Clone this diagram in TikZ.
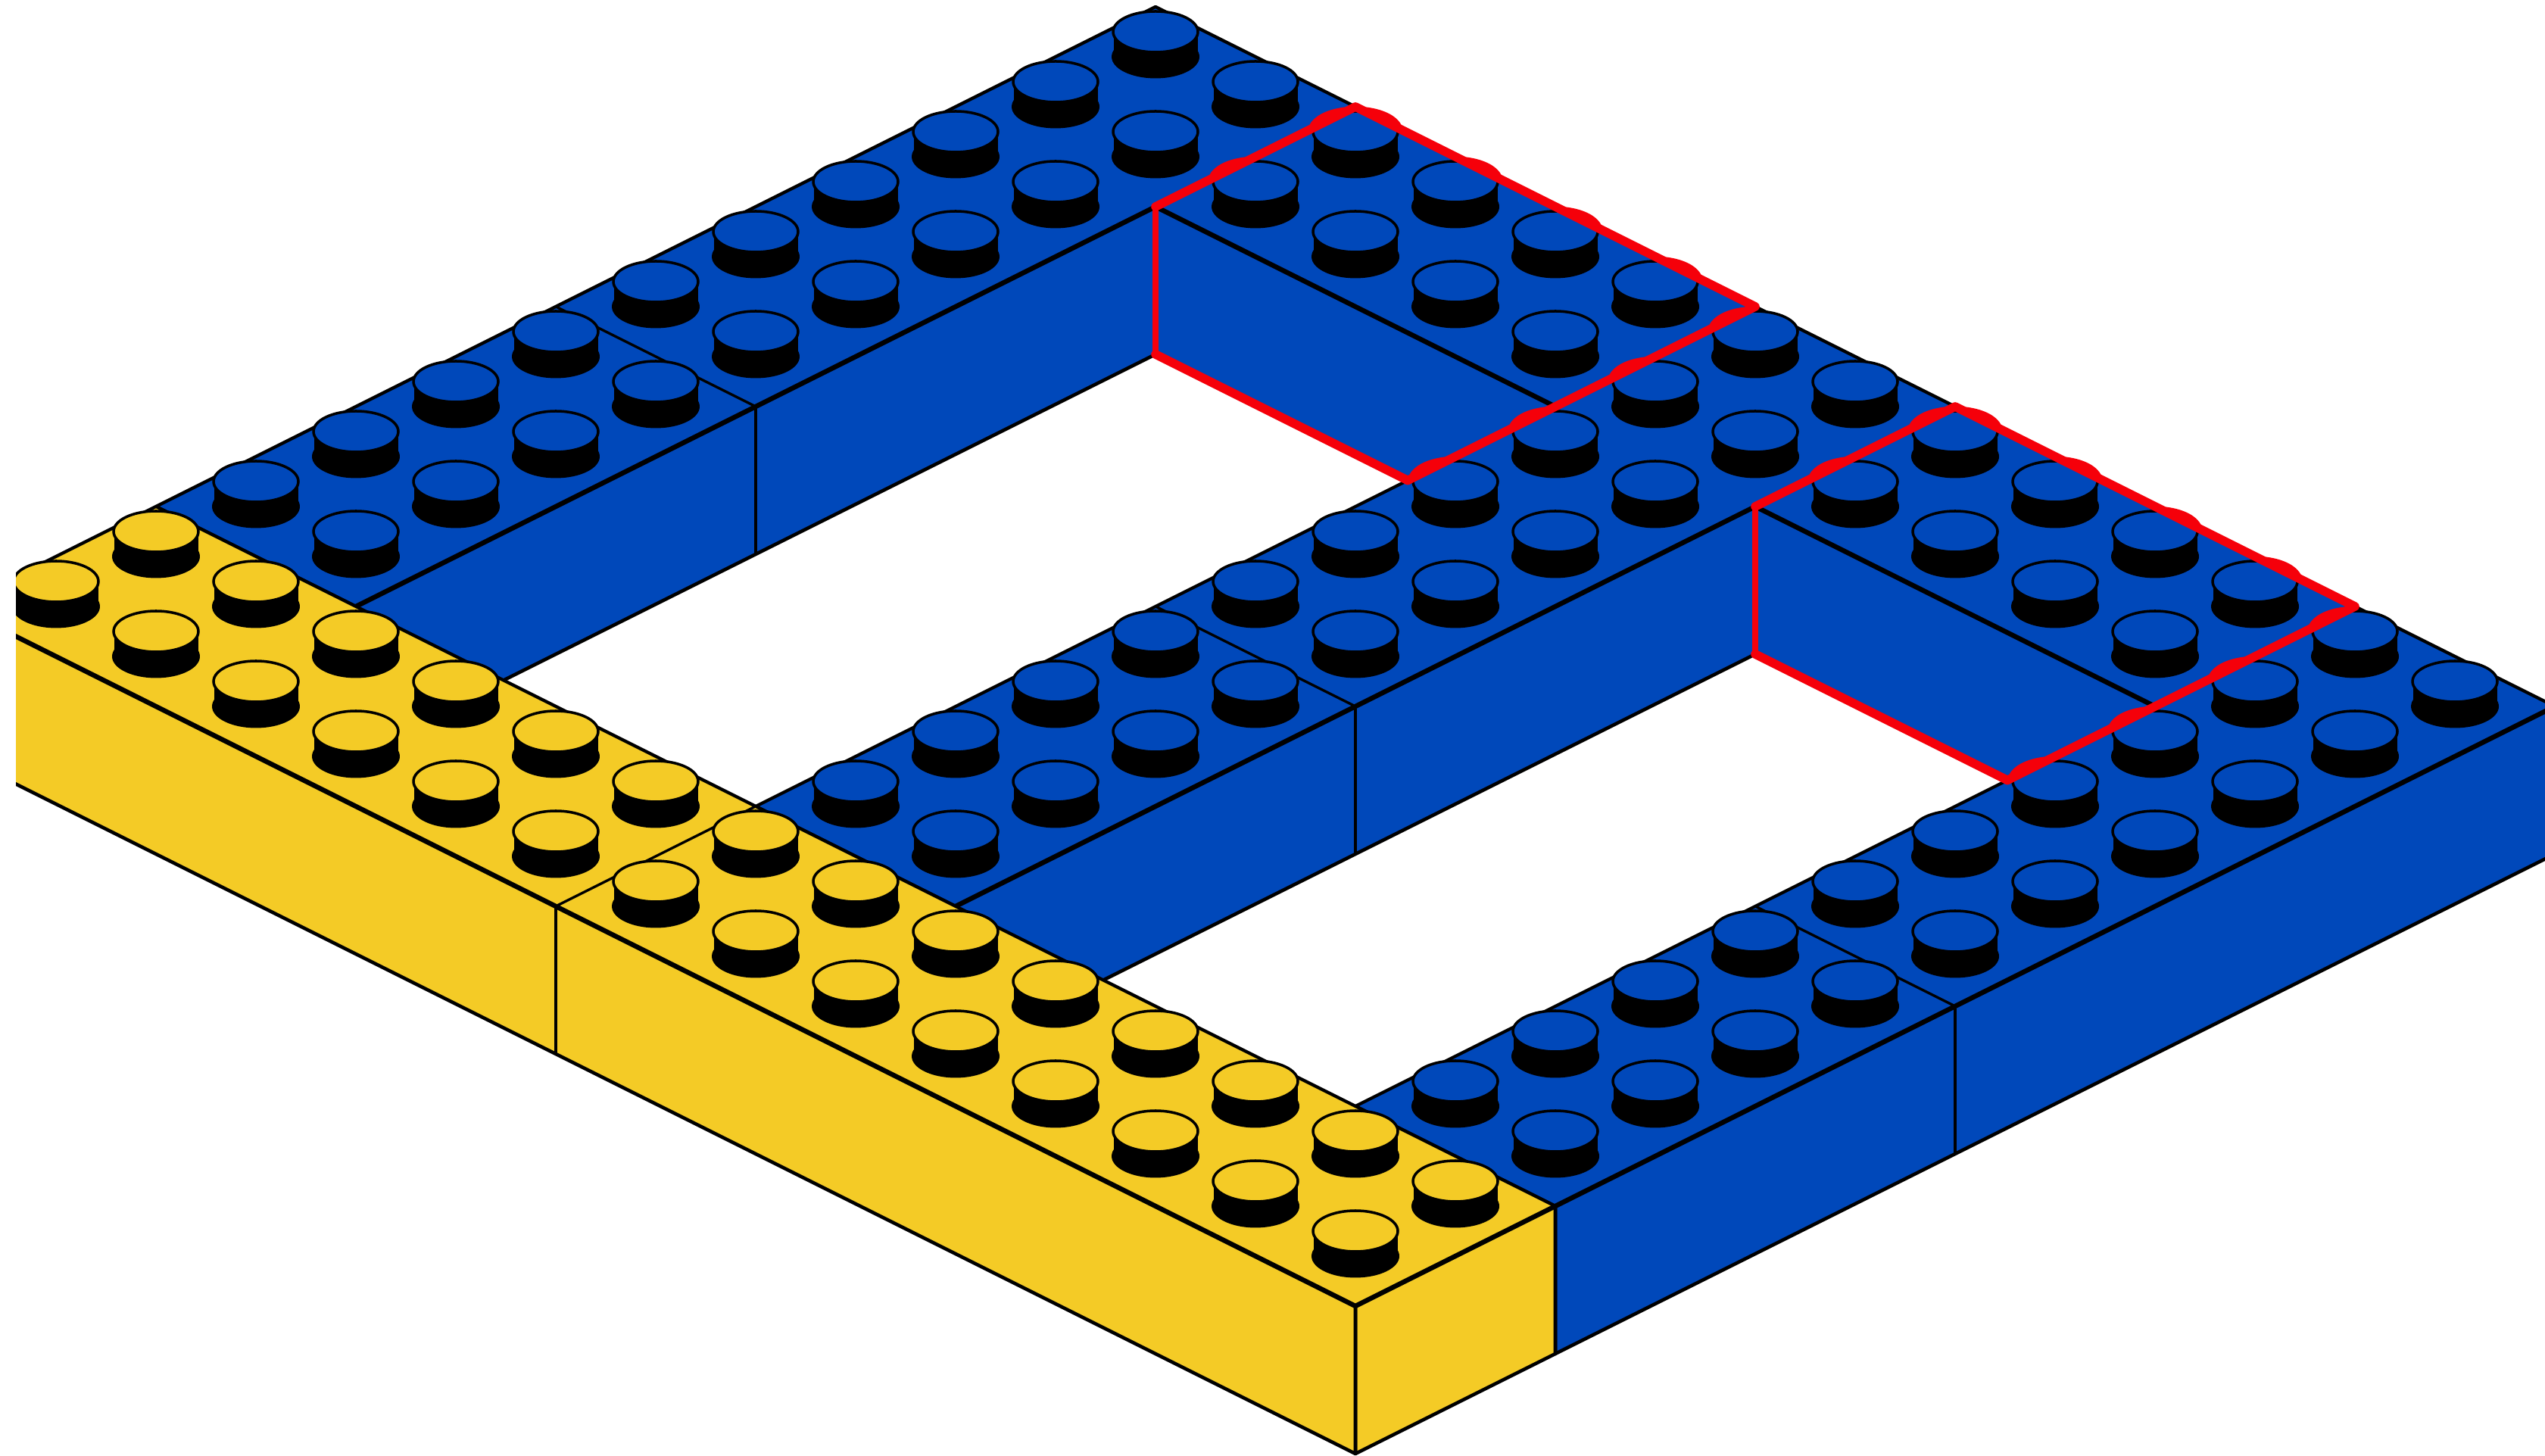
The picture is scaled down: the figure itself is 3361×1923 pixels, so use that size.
\documentclass[tikz,border=0pt]{standalone}
\definecolor{lblue}{RGB}{0,72,186}
\definecolor{lyellow}{RGB}{244,203,38}
\definecolor{lred}{RGB}{245,0,10}
\newcommand\pp[2]{({1790+132*((#2)-(#1))},{198+66*((#1)+(#2))})}
\newcommand\qq[2]{({1790+132*((#2)-(#1))},{3+66*((#1)+(#2))})}
\newcommand\stud[3]{%
  \fill[black] \pp{#1}{#2} ellipse [x radius=1.16cm,y radius=.57cm];
  \fill[black] \pp{#1}{#2} ++(-55.5,0) rectangle ++(111,33);
  \filldraw[fill=#3,draw=black,line width=2pt] \pp{#1}{#2} ++(0,33) ellipse [x radius=1.12cm,y radius=.54cm];
}
\newcommand\studs[3]{% u-list, v-list, colour
  \foreach \uu in {#1} \foreach \vv in {#2} {\stud{\uu}{\vv}{#3}}
}
\newcommand\topface[5]{%
  \filldraw[fill=#5,edgethin] \pp{#1}{#3} -- \pp{#2}{#3} -- \pp{#2}{#4} -- \pp{#1}{#4} -- cycle;
}
\newcommand\uface[4]{%
  \filldraw[fill=#4,edgemid] \pp{#1}{#2} -- \pp{#1}{#3} -- \qq{#1}{#3} -- \qq{#1}{#2} -- cycle;
  \draw[edgethick] \pp{#1}{#2} -- \pp{#1}{#3};
}
\newcommand\vface[4]{%
  \filldraw[fill=#4,edgemid] \pp{#2}{#1} -- \pp{#3}{#1} -- \qq{#3}{#1} -- \qq{#2}{#1} -- cycle;
  \draw[edgethick] \pp{#2}{#1} -- \pp{#3}{#1};
}
\newcommand\bumpL[2]{\draw[redline] \pp{#1}{#2} ++(0,33) ++(105:1.14cm and .55cm) arc [start angle=105,end angle=169,x radius=1.14cm,y radius=.55cm];}
\newcommand\bumpR[2]{\draw[redline] \pp{#1}{#2} ++(0,33) ++(11:1.14cm and .55cm) arc [start angle=11,end angle=75,x radius=1.14cm,y radius=.55cm];}
\newcommand\redbrick[1]{%
  \pgfmathsetmacro\ua{#1}\pgfmathsetmacro\ub{#1-4}%
  \pgfmathsetmacro\vc{10-195/132}%
  \draw[redline] \pp{\ub}{\vc} -- \pp{\ub}{12} -- \pp{\ua}{12} -- \pp{\ua}{10};
  \draw[redline,line width=4.6pt] \pp{\ua}{10} -- \qq{\ua}{10};
  \draw[redline] \qq{\ua}{10} -- \pp{\ub}{\vc} ;
  \foreach \k in {0.5,1.5,2.5,3.5} {\bumpR{\ua-\k}{11.5}}
  \bumpL{\ua-0.5}{10.5}\bumpL{\ua-0.5}{11.5}
  \foreach \w in {8.5,9.5,10.5,11.5} {\bumpL{\ub-0.5}{\w}}
}
\tikzset{
  edgethin/.style={draw=black,line width=2.4pt,line join=round},
  edgemid/.style={draw=black,line width=2.6pt,line join=round},
  edgethick/.style={draw=black,line width=3.6pt,line cap=round},
  seam/.style={draw=black,line width=1.9pt},
  redline/.style={draw=lred,line width=6.6pt,line join=round,line cap=round},
}
\begin{document}
\begin{tikzpicture}[x=0.02cm,y=0.02cm]
\useasboundingbox (0,0) rectangle (3361,1923);
\fill[white] (0,0) rectangle (3361,1923);
\begin{scope}
\clip (21,0) rectangle (3361,1923);
% arm A (back)
\topface{12}{14}{2}{12}{lblue}
\uface{12}{2}{10}{lblue}
\draw[seam] \pp{12}{6} -- \pp{14}{6};
\draw[seam] \pp{12}{6} -- \qq{12}{6};
\studs{13.5,12.5}{11.5,10.5,9.5,8.5,7.5,6.5,5.5,4.5,3.5,2.5}{lblue}
% upper red-marked brick
\topface{8}{12}{10}{12}{lblue}
\vface{10}{8}{12}{lblue}
\studs{11.5,10.5,9.5,8.5}{11.5,10.5}{lblue}
% arm B (middle)
\topface{6}{8}{2}{12}{lblue}
\uface{6}{2}{10}{lblue}
\draw[seam] \pp{6}{6} -- \pp{8}{6};
\draw[seam] \pp{6}{6} -- \qq{6}{6};
\studs{7.5,6.5}{11.5,10.5,9.5,8.5,7.5,6.5,5.5,4.5,3.5,2.5}{lblue}
% lower red-marked brick
\topface{2}{6}{10}{12}{lblue}
\vface{10}{2}{6}{lblue}
\studs{5.5,4.5,3.5,2.5}{11.5,10.5}{lblue}
% arm C (front)
\topface{0}{2}{2}{12}{lblue}
\uface{0}{2}{12}{lblue}
\draw[seam] \pp{0}{6} -- \pp{2}{6};
\draw[seam] \pp{0}{6} -- \qq{0}{6};
\studs{1.5,0.5}{11.5,10.5,9.5,8.5,7.5,6.5,5.5,4.5,3.5,2.5}{lblue}
% yellow bricks
\topface{0}{14}{0}{2}{lyellow}
\filldraw[fill=lyellow,edgemid] \pp{0}{0} -- \pp{0}{2} -- \qq{0}{2} -- \qq{0}{0} -- cycle;
\filldraw[fill=lyellow,edgemid] \pp{0}{0} -- \pp{14}{0} -- \qq{14}{0} -- \qq{0}{0} -- cycle;
\draw[edgethick] \pp{14}{0} -- \pp{0}{0} -- \pp{0}{2};
\draw[seam] \pp{8}{0} -- \pp{8}{2};
\draw[seam] \pp{8}{0} -- \qq{8}{0};
\studs{13.5,12.5,11.5,10.5,9.5,8.5,7.5,6.5,5.5,4.5,3.5,2.5,1.5,0.5}{1.5,0.5}{lyellow}
% red outlines
\redbrick{12}
\redbrick{6}
\end{scope}
\end{tikzpicture}
\end{document}
